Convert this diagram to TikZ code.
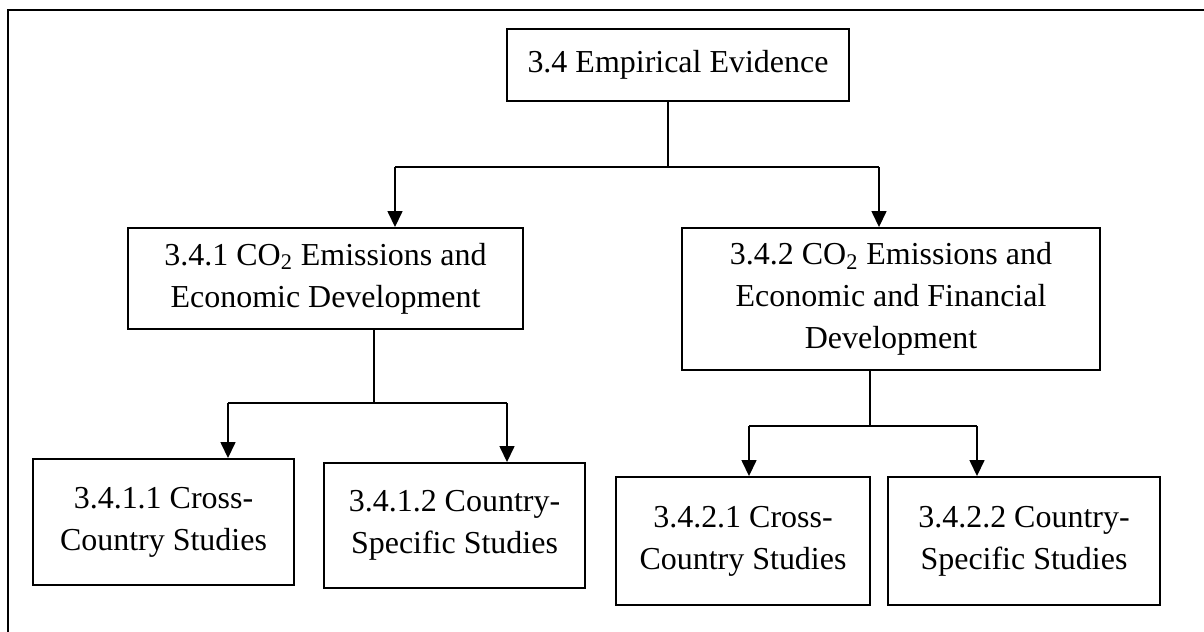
\documentclass[tikz,border=0pt]{standalone}
\usepackage{fontspec}
\setmainfont{Liberation Serif}
\usetikzlibrary{arrows.meta}
\newcommand{\secfont}{\fontsize{18.2}{23.9}\selectfont}

\begin{document}
\begin{tikzpicture}[x=0.02cm, y=-0.02cm,
    sec/.style={draw, line width=1.1pt, align=center, inner sep=0pt, font=\secfont},
    link/.style={line width=0.85pt},
    arr/.style={link, -{Triangle[length=0.32cm, width=0.3cm]}}]
  \clip (0,0) rectangle (1204,632);
  \draw[line width=1.1pt] (8,10) rectangle (1240,680);
  % boxes
  \node[sec, minimum width=6.84cm, minimum height=1.44cm] (ev) at (678,65) {3.4 Empirical Evidence};
  \node[sec, minimum width=7.9cm, minimum height=2.02cm] (ed) at (325.5,278.5)
    {3.4.1 CO\textsubscript{2} Emissions and\\Economic Development};
  \node[sec, minimum width=8.36cm, minimum height=2.84cm] (efd) at (891,299)
    {3.4.2 CO\textsubscript{2} Emissions and\\Economic and Financial\\Development};
  \node[sec, minimum width=5.22cm, minimum height=2.52cm] (edcross) at (163.5,522) {3.4.1.1 Cross-\\Country Studies};
  \node[sec, minimum width=5.22cm, minimum height=2.5cm] (edspec) at (454.5,525.5) {3.4.1.2 Country-\\Specific Studies};
  \node[sec, minimum width=5.08cm, minimum height=2.56cm] (efdcross) at (743,541) {3.4.2.1 Cross-\\Country Studies};
  \node[sec, minimum width=5.44cm, minimum height=2.56cm] (efdspec) at (1024,541) {3.4.2.2 Country-\\Specific Studies};
  % connectors
  \coordinate (j0) at (668,167);
  \coordinate (a1) at (395,167);
  \coordinate (a2) at (879,167);
  \draw[link] (ev.south -| j0) -- (j0);
  \draw[link] (a1) -- (a2);
  \draw[arr] (a1) -- (a1 |- ed.north);
  \draw[arr] (a2) -- (a2 |- efd.north);
  \coordinate (j1) at (374,403);
  \coordinate (b1) at (228,403);
  \coordinate (b2) at (507,403);
  \draw[link] (ed.south -| j1) -- (j1);
  \draw[link] (b1) -- (b2);
  \draw[arr] (b1) -- (b1 |- edcross.north);
  \draw[arr] (b2) -- (b2 |- edspec.north);
  \coordinate (j2) at (870,426);
  \coordinate (c1) at (749,426);
  \coordinate (c2) at (977,426);
  \draw[link] (efd.south -| j2) -- (j2);
  \draw[link] (c1) -- (c2);
  \draw[arr] (c1) -- (c1 |- efdcross.north);
  \draw[arr] (c2) -- (c2 |- efdspec.north);
\end{tikzpicture}
\end{document}
